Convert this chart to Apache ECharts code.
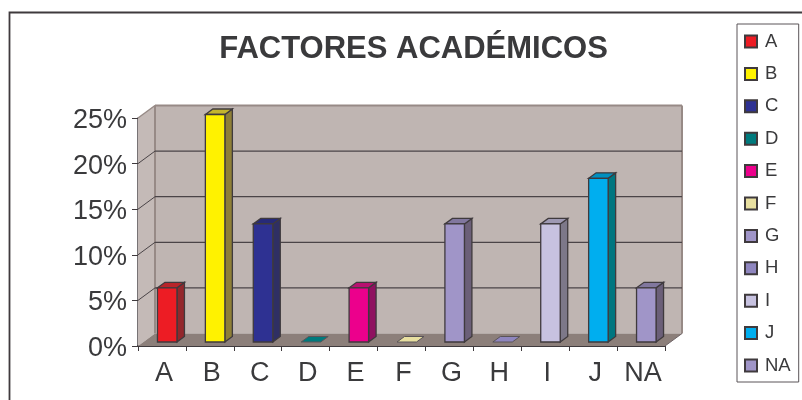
<!DOCTYPE html>
<html><head><meta charset="utf-8">
<script src="https://cdn.jsdelivr.net/npm/echarts@6/dist/echarts.min.js"></script>
<style>html,body{margin:0;padding:0;background:#fff}#c{width:802px;height:400px}</style></head>
<body><div id="c"></div>
<script>
const categories = ['A','B','C','D','E','F','G','H','I','J','NA'];
const values = [6,25,13,0,6,0,13,0,13,18,6];
const colors = ['#ed1c24','#fff200','#2e3192','#007a7d','#ec008c','#e8dfa0','#a095c8','#8f86bf','#c7c2e0','#00aeef','#a095c8'];
const sides  = ['#93272c','#8f8037','#2f2f63','#00595b','#8f1160','#b8ad77','#6b5f78','#6b5f78','#7d7889','#007680','#6b5f78'];
const tops   = ['#b8242a','#c4b52e','#272a78','#006468','#b8106f','#cfc685','#81779e','#81779e','#9e99b3','#0090c0','#81779e'];
const ticks = [0,5,10,15,20,25];
const title = 'FACTORES ACADÉMICOS';
const DX = 17, DY = -12.5, EDGE = '#3f3a3d', WALLLINE = '#978a86';

function poly(points, fill, stroke, lw) {
  return {type:'polygon', shape:{points}, style:{fill, stroke:stroke||fill, lineWidth:lw||0}};
}
function line(x1,y1,x2,y2,stroke,lw) {
  return {type:'line', shape:{x1,y1,x2,y2}, style:{stroke, lineWidth:lw}};
}
function renderWall(params, api) {
  const cs = params.coordSys, v = api.value(0), y = api.coord([0, v])[1];
  const l = cs.x, r = cs.x + cs.width, b = cs.y + cs.height, t = cs.y;
  const ch = [];
  if (v === 0) {
    ch.push(poly([[l,b],[l+DX,b+DY],[l+DX,t+DY],[l,t]], '#c4bab7'));
    ch.push(poly([[l+DX,b+DY],[r+DX,b+DY],[r+DX,t+DY],[l+DX,t+DY]], '#bfb5b2'));
    ch.push(poly([[l,b],[r,b],[r+DX,b+DY],[l+DX,b+DY]], '#8c7f7a'));
    ch.push(line(l+DX,t+DY,r+DX,t+DY,WALLLINE,2));
    ch.push(line(r+DX,t+DY,r+DX,b+DY,WALLLINE,2));
    ch.push(line(l+DX,t+DY,l+DX,b+DY,WALLLINE,2));
    ch.push(line(l,t,l+DX,t+DY,WALLLINE,1.5));
    ch.push(line(r,b,r+DX,b+DY,'#6f6467',1));
  } else if (v < 25) {
    ch.push(line(l,y,l+DX,y+DY,'#4a4447',1));
    ch.push(line(l+DX,y+DY,r+DX,y+DY,'#4a4447',1.2));
  }
  return {type:'group', children:ch};
}
function renderBar(params, api) {
  const i = params.seriesIndex - 1;
  const p = api.coord([api.value(0), api.value(1)]);
  const x0 = p[0] - 4.5, x1 = p[0] + 15, yb = api.coord([0,0])[1] - 4, yt = api.value(1) > 0 ? p[1] - 3.5 : yb;
  const dx = 7.5, dy = -5.5;
  const ch = [];
  if (api.value(1) > 0) {
    ch.push(poly([[x1,yb],[x1+dx,yb+dy],[x1+dx,yt+dy],[x1,yt]], sides[i], EDGE, 1.3));
    ch.push(poly([[x0,yt],[x1,yt],[x1+dx,yt+dy],[x0+dx,yt+dy]], tops[i], EDGE, 1.3));
    ch.push(poly([[x0,yb],[x1,yb],[x1,yt],[x0,yt]], colors[i], EDGE, 1.3));
  } else {
    ch.push(poly([[x0,yt],[x1,yt],[x1+dx,yt+dy],[x0+dx,yt+dy]], colors[i], '#5a5458', 1));
  }
  return {type:'group', children:ch};
}
const series = [{
  type:'custom', name:'_wall', silent:true, z:1, renderItem:renderWall, clip:false,
  data:ticks.map(t=>[t]), encode:{y:0}
}];
categories.forEach((c,i)=>series.push({
  type:'custom', name:c, z:3, renderItem:renderBar, clip:false,
  itemStyle:{color:colors[i], borderColor:EDGE, borderWidth:1.5},
  data:[[i,values[i]]], encode:{x:0,y:1}
}));
const chart = echarts.init(document.getElementById('c'), null, {renderer:'canvas'});
chart.setOption({
  animation:false,
  backgroundColor:'#fff',
  title:{text:title, left:408.5, top:29, textAlign:'center',
    textStyle:{fontFamily:'Liberation Sans', fontWeight:'bold', fontSize:31, color:'#3a3a3c'}},
  grid:{left:138, right:137, top:118, bottom:54},
  xAxis:{type:'category', data:categories, boundaryGap:true,
    axisLine:{show:true, lineStyle:{color:'#3f3a3d', width:2}},
    axisTick:{show:true, length:5, lineStyle:{color:'#3f3a3d', width:1}},
    axisLabel:{fontFamily:'Liberation Sans', fontSize:27, color:'#3a3a3c', margin:14, interval:0, padding:[0,0,0,4]}},
  yAxis:{type:'value', min:0, max:25, interval:5,
    splitLine:{show:false},
    axisLine:{show:true, lineStyle:{color:'#4a4447', width:1.5}},
    axisTick:{show:true, length:6, lineStyle:{color:'#3f3a3d', width:1}},
    axisLabel:{fontFamily:'Liberation Sans', fontSize:27, color:'#3a3a3c', margin:11, verticalAlign:'top', lineHeight:5, formatter:'{value}%'}},
  legend:{orient:'vertical', left:737, top:24, data:categories, icon:'rect',
    itemWidth:12, itemHeight:12, itemGap:13.4, padding:[8,8,7,7], selectedMode:false,
    borderColor:'#5a5458', borderWidth:1,
    textStyle:{fontFamily:'Liberation Sans', fontSize:18.5, color:'#3a3a3c', padding:[0,0,0,3]}},
  graphic:[{type:'rect', silent:true, z:-1, shape:{x:9.5,y:12.5,width:900,height:600},
    style:{fill:'none', stroke:'#3f3a3d', lineWidth:1.8}}],
  series
});
</script></body></html>
